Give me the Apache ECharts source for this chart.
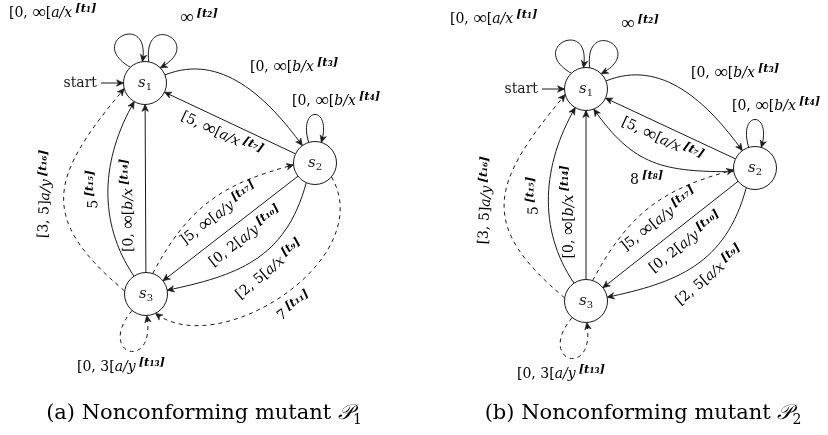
<!DOCTYPE html>
<html>
<head>
<meta charset="utf-8">
<script src="https://cdn.jsdelivr.net/npm/echarts@6/dist/echarts.min.js"></script>
<style>
  html, body { margin: 0; padding: 0; background: #fff; }
  #chart { width: 828px; height: 435px; }
</style>
</head>
<body>
<div id="chart"></div>
<script>
// states and their places in the drawing (diagram units, 1 unit = 1px)
const states = ['s1', 's2', 's3'];
const stateXA = [145, 315, 146];
const stateYA = [83, 163, 294];
const stateXB = [586, 755, 586];
const stateYB = [89, 168, 301];

// transitions: [tag, from, to, guard, input/output, dashed]
const transA = [
  ['start', null, 's1', 'start', '', false],
  ['t1', 's1', 's1', '[0, ∞[', 'a/x', false],
  ['t2', 's1', 's1', '∞', '', false],
  ['t3', 's1', 's2', '[0, ∞[', 'b/x', false],
  ['t4', 's2', 's2', '[0, ∞[', 'b/x', false],
  ['t7', 's2', 's1', '[5, ∞[', 'a/x', false],
  ['t9', 's2', 's3', '[2, 5[', 'a/x', false],
  ['t10', 's2', 's3', '[0, 2[', 'a/y', false],
  ['t11', 's2', 's3', '7', '', true],
  ['t13', 's3', 's3', '[0, 3[', 'a/y', true],
  ['t14', 's3', 's1', '[0, ∞[', 'b/x', false],
  ['t15', 's3', 's1', '5', '', false],
  ['t16', 's3', 's1', '[3, 5]', 'a/y', true],
  ['t17', 's3', 's2', ']5, ∞[', 'a/y', true]
];
const transB = [
  ['start', null, 's1', 'start', '', false],
  ['t1', 's1', 's1', '[0, ∞[', 'a/x', false],
  ['t2', 's1', 's1', '∞', '', false],
  ['t3', 's1', 's2', '[0, ∞[', 'b/x', false],
  ['t4', 's2', 's2', '[0, ∞[', 'b/x', false],
  ['t7', 's2', 's1', '[5, ∞[', 'a/x', false],
  ['t8', 's2', 's1', '8', '', false],
  ['t9', 's2', 's3', '[2, 5[', 'a/x', false],
  ['t10', 's2', 's3', '[0, 2[', 'a/y', false],
  ['t13', 's3', 's3', '[0, 3[', 'a/y', true],
  ['t14', 's3', 's1', '[0, ∞[', 'b/x', false],
  ['t15', 's3', 's1', '5', '', false],
  ['t16', 's3', 's1', '[3, 5]', 'a/y', true],
  ['t17', 's3', 's2', ']5, ∞[', 'a/y', true]
];

const captions = ['(a) Nonconforming mutant ', '(b) Nonconforming mutant '];
const captionSub = ['1', '2'];

// edge shapes: o/i = border angles, ot/it = tangent angles, l = handle length
// labels: flat ones placed by lx/ly from the source state, sloped ones by t/n (r forces a slope)
const geom = {
  t1: { o: 133, ot: 150, i: 97, it: 80, l: 52, lx: -136, ly: -70 },
  t2: { o: 80, ot: 97, i: 45, it: 28, l: 52, lx: 35, ly: -65 },
  t3: { o: 22, i: 126, l: 60, lx: 105, ly: -16 },
  t4: { o: 107, i: 73, l: 39, lx: -23, ly: -62 },
  t7: { straight: true, t: 0.52, n: -14 },
  t8: { o: 190, ot: 180, i: 291, it: 305, l: 70, lx: -125, ly: 12 },
  t9: { o: 246, ot: 255, i: 10, it: 12, l1: 80, l2: 70, t: 0.47, n: -17, r: 40 },
  t10: { straight: true, t: 0.46, n: -16 },
  t11: { o: 320, ot: 300, i: 296, it: 323, l1: 95, l2: 80, t: 0.5, n: -16 },
  t13: { o: 230, i: 272, ot: 230, it: 280, l: 58, lx: -69, ly: 73 },
  t14: { straight: true, t: 0.4, n: 17 },
  t15: { o: 124, i: 240, l: 66, t: 0.5, n: 14 },
  t16: { o: 172, ot: 140, i: 195, it: 230, l: 115, t: 0.5, n: 18 },
  t17: { o: 72, ot: 62, i: 185, it: 195, l1: 80, l2: 70, t: 0.48, n: -16 }
};

const INK = '#1a1a1a';
const FONT = 'DejaVu Serif';
const R = 21.5;
const SUBS = '₀₁₂₃₄₅₆₇₈₉';
const sub = s => s.replace(/\d/g, d => SUBS[+d]);

const rich = {
  m: { fontFamily: FONT, fontSize: 14, lineHeight: 20, color: INK },
  f: { fontFamily: 'Liberation Serif', fontSize: 19, lineHeight: 20, color: INK },
  i: { fontFamily: FONT, fontSize: 14, lineHeight: 20, fontStyle: 'italic', color: INK },
  g: { fontSize: 11, lineHeight: 20 },
  s: { fontFamily: FONT, fontSize: 11.5, lineHeight: 12, fontStyle: 'italic', fontWeight: 'bold', verticalAlign: 'top', color: INK }
};

function dir(a) {
  const r = a * Math.PI / 180;
  return [Math.cos(r), -Math.sin(r)];
}

function edgePoints(g, a, b) {
  if (g.straight) {
    const dx = b[0] - a[0], dy = b[1] - a[1], len = Math.hypot(dx, dy);
    const u = [dx / len, dy / len];
    const p0 = [a[0] + u[0] * R, a[1] + u[1] * R];
    const p3 = [b[0] - u[0] * R, b[1] - u[1] * R];
    const q = f => [p0[0] + (p3[0] - p0[0]) * f, p0[1] + (p3[1] - p0[1]) * f];
    return [p0, q(1 / 3), q(2 / 3), p3];
  }
  const d0 = dir(g.o), d3 = dir(g.i);
  const t0 = dir(g.ot != null ? g.ot : g.o), t3 = dir(g.it != null ? g.it : g.i);
  const l1 = g.l1 || g.l, l2 = g.l2 || g.l;
  const p0 = [a[0] + d0[0] * R, a[1] + d0[1] * R];
  const p3 = [b[0] + d3[0] * R, b[1] + d3[1] * R];
  return [p0, [p0[0] + t0[0] * l1, p0[1] + t0[1] * l1], [p3[0] + t3[0] * l2, p3[1] + t3[1] * l2], p3];
}

function bez(p, t) {
  const u = 1 - t;
  return [0, 1].map(k => u * u * u * p[0][k] + 3 * u * u * t * p[1][k] + 3 * u * t * t * p[2][k] + t * t * t * p[3][k]);
}

function bezD(p, t) {
  const u = 1 - t;
  return [0, 1].map(k => 3 * u * u * (p[1][k] - p[0][k]) + 6 * u * t * (p[2][k] - p[1][k]) + 3 * t * t * (p[3][k] - p[2][k]));
}

function arrow(tip, d) {
  const len = Math.hypot(d[0], d[1]);
  const u = [d[0] / len, d[1] / len], n = [-u[1], u[0]];
  const back = [tip[0] - u[0] * 7, tip[1] - u[1] * 7];
  const notch = [tip[0] - u[0] * 5, tip[1] - u[1] * 5];
  return {
    type: 'polygon',
    shape: { points: [tip, [back[0] + n[0] * 3.2, back[1] + n[1] * 3.2], notch, [back[0] - n[0] * 3.2, back[1] - n[1] * 3.2]] },
    style: { fill: INK, stroke: INK, lineWidth: 0.6 }
  };
}

function labelText(tr) {
  // infinity sign gets its own, larger token
  let s = `{m|${tr[3].replace(/∞/g, '}{f|∞}{m|')}}`;
  if (tr[4]) s += `{i|${tr[4]}}`;
  return s + `{g| }{s|[t${sub(tr[0].slice(1))}]}`;
}

function edgeSeries(trans, xs, ys) {
  const at = k => [xs[states.indexOf(k)], ys[states.indexOf(k)]];
  return {
    type: 'custom',
    coordinateSystem: 'cartesian2d',
    silent: true,
    z: 1,
    data: trans.map((tr, i) => at(tr[2]).concat(i)),
    renderItem(params, api) {
      const tr = trans[params.dataIndex];
      const [tag, from, to, , , dashed] = tr;
      const c = k => api.coord(at(k));
      const lineStyle = { stroke: INK, lineWidth: 1, fill: null };
      if (dashed) lineStyle.lineDash = [4, 4];
      const children = [];

      if (tag === 'start') {
        const b = c(to);
        const p0 = [b[0] - 44, b[1]], p3 = [b[0] - R, b[1]];
        children.push({ type: 'line', shape: { x1: p0[0], y1: p0[1], x2: p3[0], y2: p3[1] }, style: lineStyle });
        children.push(arrow(p3, [1, 0]));
        children.push({
          type: 'text', x: p0[0] - 4, y: b[1],
          style: { text: tr[3], fontFamily: FONT, fontSize: 14, fill: INK, align: 'right', verticalAlign: 'middle' }
        });
        return { type: 'group', children };
      }

      const g = geom[tag];
      const a = c(from);
      const p = edgePoints(g, a, c(to));
      children.push({
        type: 'bezierCurve',
        shape: { x1: p[0][0], y1: p[0][1], cpx1: p[1][0], cpy1: p[1][1], cpx2: p[2][0], cpy2: p[2][1], x2: p[3][0], y2: p[3][1] },
        style: lineStyle
      });
      children.push(arrow(p[3], bezD(p, 0.999)));

      let x, y, rot = 0, align = 'left';
      if (g.lx != null) {
        x = a[0] + g.lx;
        y = a[1] + g.ly;
      } else {
        const pt = bez(p, g.t), dv = bezD(p, g.t);
        rot = Math.atan2(-dv[1], dv[0]);
        // keep text readable, vertical ones read bottom to top
        if (rot > Math.PI / 2 + 0.2) rot -= Math.PI;
        else if (rot < -Math.PI / 2 + 0.2) rot += Math.PI;
        if (g.r != null) rot = g.r * Math.PI / 180;
        const up = [-Math.sin(rot), -Math.cos(rot)];
        x = pt[0] + up[0] * g.n;
        y = pt[1] + up[1] * g.n;
        align = 'center';
      }
      children.push({
        type: 'text', x, y, rotation: rot,
        style: { text: labelText(tr), rich, align, verticalAlign: 'middle' }
      });
      return { type: 'group', children };
    }
  };
}

function stateSeries(xs, ys) {
  return {
    type: 'scatter',
    silent: true,
    z: 3,
    symbol: 'circle',
    symbolSize: 43,
    data: xs.map((x, i) => [x, ys[i], states[i]]),
    itemStyle: { color: '#fff', borderColor: INK, borderWidth: 1, opacity: 1 },
    emphasis: { disabled: true },
    label: {
      show: true,
      position: 'inside',
      formatter: p => `{s|s}{d|${p.value[2].slice(1)}}`,
      rich: {
        s: { fontFamily: FONT, fontSize: 15, fontStyle: 'italic', lineHeight: 18, color: INK },
        d: { fontFamily: FONT, fontSize: 10, lineHeight: 12, verticalAlign: 'bottom', color: INK }
      }
    }
  };
}

const chart = echarts.init(document.getElementById('chart'), null, { renderer: 'canvas' });
chart.setOption({
  animation: false,
  backgroundColor: '#fff',
  grid: { left: 0, right: 0, top: 0, bottom: 0 },
  xAxis: { type: 'value', min: 0, max: 828, show: false },
  yAxis: { type: 'value', min: 0, max: 435, inverse: true, show: false },
  graphic: captions.map((t, i) => ({
    type: 'text',
    x: i === 0 ? 204 : 643,
    y: 414,
    style: {
      text: `{n|${t}}{p|𝒫}{d|${captionSub[i]}}`,
      align: 'center',
      verticalAlign: 'middle',
      rich: {
        n: { fontFamily: FONT, fontSize: 21, lineHeight: 26, color: INK },
        p: { fontFamily: FONT, fontSize: 21, lineHeight: 26, fontStyle: 'italic', color: INK },
        d: { fontFamily: FONT, fontSize: 14, lineHeight: 16, verticalAlign: 'bottom', color: INK }
      }
    }
  })),
  series: [
    edgeSeries(transA, stateXA, stateYA),
    edgeSeries(transB, stateXB, stateYB),
    stateSeries(stateXA, stateYA),
    stateSeries(stateXB, stateYB)
  ]
});
</script>
</body>
</html>
